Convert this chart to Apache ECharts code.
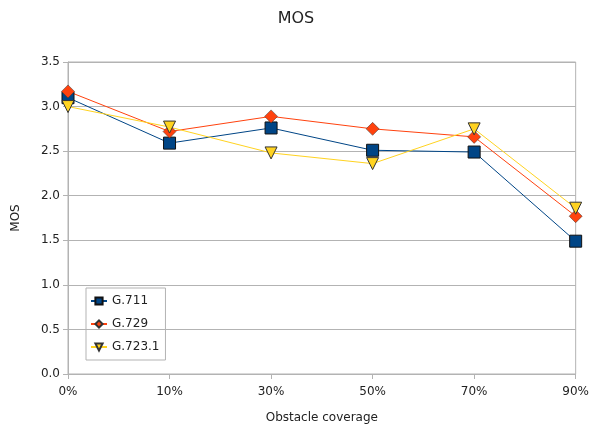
<!DOCTYPE html>
<html><head><meta charset="utf-8">
<script src="https://cdn.jsdelivr.net/npm/echarts@6/dist/echarts.min.js"></script>
<style>html,body{margin:0;padding:0;background:#fff}#c{width:592px;height:432px}</style>
</head><body><div id="c"></div>
<script>
var categories = ['0%','10%','30%','50%','70%','90%'];
var g711 = [3.10, 2.59, 2.76, 2.51, 2.49, 1.49];
var g729 = [3.17, 2.72, 2.89, 2.75, 2.66, 1.77];
var g7231 = [3.00, 2.77, 2.48, 2.36, 2.75, 1.86];
var seriesNames = ['G.711','G.729','G.723.1'];

var chart = echarts.init(document.getElementById('c'));
var font = 'DejaVu Sans';
chart.setOption({
  animation: false,
  backgroundColor: '#fff',
  title: {text: 'MOS', left: 'center', top: 6, textStyle: {fontFamily: font, fontSize: 16, fontWeight: 'normal', color: '#222'}},
  grid: {left: 68, right: 14, top: 62, bottom: 58, show: true, borderColor: '#b3b3b3', borderWidth: 1},
  legend: {
    left: 86, top: 288, orient: 'vertical', itemGap: 11, itemWidth: 16, itemHeight: 9,
    borderColor: '#b3b3b3', borderWidth: 1, padding: [7, 6, 7, 4],
    textStyle: {fontFamily: font, fontSize: 12, color: '#222'},
    data: seriesNames
  },
  xAxis: {
    type: 'category', data: categories, boundaryGap: false,
    name: 'Obstacle coverage', nameLocation: 'middle', nameGap: 38,
    nameTextStyle: {fontFamily: font, fontSize: 12, color: '#222'},
    axisLine: {lineStyle: {color: '#b3b3b3'}},
    axisTick: {show: true, alignWithLabel: true, length: 5, lineStyle: {color: '#b3b3b3'}},
    axisLabel: {fontFamily: font, fontSize: 12, color: '#222', margin: 12},
    splitLine: {show: false}
  },
  yAxis: {
    type: 'value', min: 0, max: 3.5, interval: 0.5,
    name: 'MOS', nameLocation: 'middle', nameGap: 46,
    nameTextStyle: {fontFamily: font, fontSize: 12, color: '#222'},
    axisLine: {show: true, lineStyle: {color: '#b3b3b3'}},
    axisTick: {show: true, length: 5, lineStyle: {color: '#b3b3b3'}},
    axisLabel: {fontFamily: font, fontSize: 12, color: '#222', formatter: function(v){return v.toFixed(1);}},
    splitLine: {lineStyle: {color: '#b3b3b3'}}
  },
  series: [
    {name: seriesNames[0], type: 'line', data: g711, symbol: 'rect', symbolSize: 12,
     lineStyle: {color: '#004586', width: 1}, itemStyle: {color: '#004586', borderColor: '#111', borderWidth: 1}},
    {name: seriesNames[1], type: 'line', data: g729, symbol: 'diamond', symbolSize: 13,
     lineStyle: {color: '#ff420e', width: 1}, itemStyle: {color: '#ff420e', borderColor: '#333', borderWidth: 0.5}},
    {name: seriesNames[2], type: 'line', data: g7231, symbol: 'triangle', symbolRotate: 180, symbolSize: 12,
     lineStyle: {color: '#ffd320', width: 1}, itemStyle: {color: '#ffd320', borderColor: '#333', borderWidth: 1}}
  ]
});
</script></body></html>
